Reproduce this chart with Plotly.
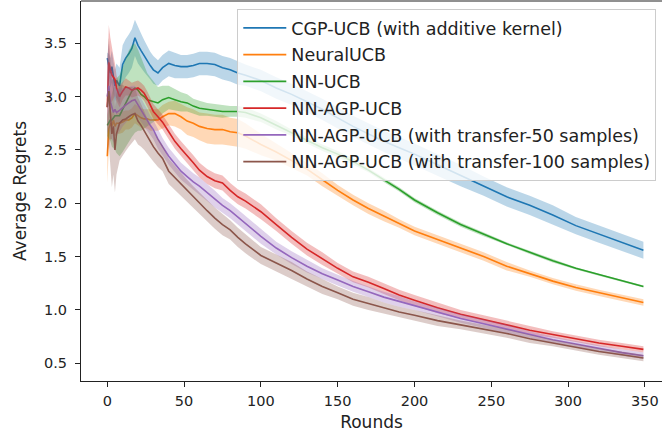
import plotly.graph_objects as go

rounds = [0, 1, 2, 3, 4, 5, 6,
          8, 10, 12, 14, 16, 18, 20,
          22, 24, 26, 28, 30,
          33, 36, 40, 44, 48, 52, 56, 60,
          65, 70, 75, 80, 85, 90,
          100, 110, 120, 130, 140, 150, 160, 170, 180, 190, 200,
          215, 230, 245, 260, 275, 290, 305, 320, 335, 349]

labels = ["CGP-UCB (with additive kernel)", "NeuralUCB", "NN-UCB", "NN-AGP-UCB",
          "NN-AGP-UCB (with transfer-50 samples)", "NN-AGP-UCB (with transfer-100 samples)"]

cgp_mean = [3.36, 3.30, 3.22, 3.28, 3.18, 3.10, 3.15,
            3.10, 3.30, 3.36, 3.40, 3.45, 3.55, 3.48,
            3.43, 3.38, 3.33, 3.29, 3.25,
            3.22, 3.27, 3.31, 3.29, 3.28, 3.28, 3.29, 3.31,
            3.31, 3.30, 3.27, 3.25, 3.22, 3.20,
            3.15, 3.08, 3.02, 2.95, 2.88, 2.80, 2.72, 2.65, 2.58, 2.52, 2.46,
            2.36, 2.26, 2.16, 2.06, 1.98, 1.89, 1.79, 1.71, 1.63, 1.56]
cgp_std = [0.05, 0.10, 0.14, 0.15, 0.15, 0.15, 0.16,
           0.17, 0.18, 0.18, 0.18, 0.18, 0.17, 0.17,
           0.16, 0.15, 0.14, 0.13, 0.13,
           0.12, 0.12, 0.12, 0.12, 0.11, 0.11, 0.11, 0.11,
           0.11, 0.11, 0.11, 0.11, 0.11, 0.10,
           0.10, 0.10, 0.10, 0.10, 0.10, 0.10, 0.10, 0.10, 0.10, 0.10, 0.10,
           0.10, 0.10, 0.09, 0.09, 0.09, 0.09, 0.08, 0.08, 0.08, 0.08]

neural_mean = [2.44, 2.70, 2.75, 2.72, 2.78, 2.72, 2.75,
               2.75, 2.76, 2.78, 2.78, 2.80, 2.84, 2.82,
               2.80, 2.79, 2.79, 2.78, 2.78,
               2.78, 2.81, 2.84, 2.84, 2.81, 2.77, 2.75, 2.72,
               2.70, 2.69, 2.69, 2.67, 2.66, 2.63,
               2.55, 2.48, 2.40, 2.32, 2.22, 2.12, 2.03, 1.95, 1.88, 1.81, 1.74,
               1.66, 1.58, 1.50, 1.41, 1.34, 1.27, 1.21, 1.16, 1.11, 1.07]
neural_std = [0.25, 0.20, 0.15, 0.12, 0.10, 0.10, 0.10,
              0.10, 0.10, 0.09, 0.09, 0.09, 0.09, 0.09,
              0.09, 0.09, 0.09, 0.10, 0.10,
              0.10, 0.11, 0.11, 0.12, 0.12, 0.13, 0.13, 0.13,
              0.14, 0.14, 0.14, 0.13, 0.13, 0.12,
              0.10, 0.08, 0.07, 0.06, 0.06, 0.05, 0.05, 0.05, 0.05, 0.04, 0.04,
              0.04, 0.04, 0.04, 0.04, 0.03, 0.03, 0.03, 0.03, 0.03, 0.03]

nnucb_mean = [2.73, 2.75, 2.78, 2.78, 2.80, 2.82, 2.82,
              2.82, 2.88, 2.94, 3.00, 3.05, 3.08, 3.06,
              3.02, 3.00, 2.97, 2.96, 2.95,
              2.94, 2.97, 2.99, 2.97, 2.95, 2.94, 2.91, 2.89,
              2.88, 2.87, 2.86, 2.86, 2.86, 2.85,
              2.80, 2.73, 2.66, 2.59, 2.52, 2.46, 2.39, 2.31, 2.22, 2.13, 2.03,
              1.91, 1.80, 1.71, 1.62, 1.54, 1.46, 1.39, 1.33, 1.27, 1.22]
nnucb_std = [0.10, 0.15, 0.20, 0.25, 0.28, 0.32, 0.35,
             0.38, 0.40, 0.42, 0.43, 0.43, 0.42, 0.38,
             0.34, 0.30, 0.25, 0.22, 0.19,
             0.15, 0.13, 0.11, 0.10, 0.09, 0.08, 0.07, 0.07,
             0.06, 0.06, 0.06, 0.05, 0.05, 0.05,
             0.04, 0.04, 0.03, 0.03, 0.03, 0.03, 0.03, 0.02, 0.02, 0.02, 0.02,
             0.02, 0.02, 0.02, 0.015, 0.015, 0.015, 0.01, 0.01, 0.01, 0.01]

agp_mean = [2.90, 3.32, 3.25, 3.20, 3.18, 3.16, 3.08,
            3.00, 3.05, 3.09, 3.08, 3.06, 3.07, 3.08,
            3.06, 3.03, 2.98, 2.92, 2.86,
            2.81, 2.76, 2.67, 2.58, 2.51, 2.45, 2.38, 2.31,
            2.25, 2.21, 2.19, 2.12, 2.06, 2.02,
            1.92, 1.80, 1.68, 1.57, 1.48, 1.39, 1.31, 1.26, 1.20, 1.14, 1.09,
            1.02, 0.96, 0.91, 0.86, 0.81, 0.77, 0.73, 0.69, 0.66, 0.63]
agp_std = [0.30, 0.35, 0.30, 0.25, 0.20, 0.15, 0.12,
           0.10, 0.08, 0.08, 0.07, 0.07, 0.07, 0.07,
           0.07, 0.07, 0.07, 0.07, 0.07,
           0.07, 0.07, 0.07, 0.07, 0.07, 0.07, 0.07, 0.07,
           0.07, 0.07, 0.07, 0.07, 0.07, 0.07,
           0.07, 0.06, 0.06, 0.06, 0.06, 0.05, 0.05, 0.05, 0.05, 0.05, 0.05,
           0.05, 0.04, 0.04, 0.04, 0.04, 0.03, 0.03, 0.03, 0.03, 0.03]

t50_mean = [3.00, 3.10, 2.95, 2.90, 2.85, 2.88, 2.85,
            2.87, 2.90, 2.92, 2.94, 2.96, 2.97, 2.92,
            2.88, 2.83, 2.78, 2.73, 2.69,
            2.60, 2.53, 2.44, 2.37, 2.30, 2.25, 2.20, 2.16,
            2.10, 2.04, 1.98, 1.93, 1.87, 1.81,
            1.69, 1.58, 1.49, 1.41, 1.34, 1.28, 1.22, 1.17, 1.12, 1.08, 1.04,
            0.98, 0.92, 0.87, 0.82, 0.77, 0.72, 0.68, 0.64, 0.60, 0.57]
t50_std = [0.35, 0.40, 0.35, 0.30, 0.28, 0.25, 0.22,
           0.20, 0.18, 0.16, 0.15, 0.14, 0.13, 0.12,
           0.11, 0.10, 0.10, 0.09, 0.09,
           0.09, 0.08, 0.08, 0.08, 0.08, 0.08, 0.08, 0.08,
           0.08, 0.08, 0.07, 0.07, 0.07, 0.07,
           0.07, 0.06, 0.06, 0.06, 0.05, 0.05, 0.05, 0.05, 0.05, 0.05, 0.04,
           0.04, 0.04, 0.04, 0.04, 0.03, 0.03, 0.03, 0.03, 0.03, 0.03]

t100_mean = [2.90, 3.05, 2.85, 2.65, 2.72, 2.50, 2.65,
             2.75, 2.78, 2.79, 2.81, 2.83, 2.84, 2.77,
             2.73, 2.68, 2.63, 2.58, 2.53,
             2.47, 2.42, 2.30, 2.24, 2.18, 2.12, 2.06, 2.00,
             1.93, 1.86, 1.80, 1.75, 1.68, 1.62,
             1.51, 1.44, 1.37, 1.29, 1.22, 1.16, 1.10, 1.06, 1.02, 0.98, 0.95,
             0.90, 0.86, 0.82, 0.78, 0.73, 0.69, 0.65, 0.61, 0.58, 0.55]
t100_std = [0.45, 0.50, 0.50, 0.50, 0.45, 0.40, 0.38,
            0.35, 0.33, 0.30, 0.28, 0.26, 0.24, 0.22,
            0.20, 0.18, 0.16, 0.15, 0.14,
            0.13, 0.12, 0.12, 0.11, 0.11, 0.10, 0.10, 0.10,
            0.10, 0.10, 0.10, 0.09, 0.09, 0.09,
            0.08, 0.08, 0.08, 0.07, 0.07, 0.06, 0.06, 0.06, 0.05, 0.05, 0.05,
            0.05, 0.04, 0.04, 0.04, 0.04, 0.03, 0.03, 0.03, 0.03, 0.03]

x_ticks = [0, 50, 100, 150, 200, 250, 300, 350]
y_ticks = [0.5, 1.0, 1.5, 2.0, 2.5, 3.0, 3.5]

colors = ["#1f77b4", "#ff7f0e", "#2ca02c", "#d62728", "#9467bd", "#8c564b"]
means = [cgp_mean, neural_mean, nnucb_mean, agp_mean, t50_mean, t100_mean]
stds = [cgp_std, neural_std, nnucb_std, agp_std, t50_std, t100_std]


def rgba(hexc, a):
    h = hexc.lstrip("#")
    return "rgba(%d,%d,%d,%.2f)" % (int(h[0:2], 16), int(h[2:4], 16), int(h[4:6], 16), a)


fig = go.Figure()
for i, (lab, m, s, c) in enumerate(zip(labels, means, stds, colors)):
    upper = [a + b for a, b in zip(m, s)]
    lower = [a - b for a, b in zip(m, s)]
    fig.add_trace(go.Scatter(x=rounds, y=m, mode="lines", name=lab,
                             line=dict(color=c, width=1.6), legendgroup=str(i)))
    fig.add_trace(go.Scatter(x=rounds + rounds[::-1], y=upper + lower[::-1],
                             fill="toself", fillcolor=rgba(c, 0.3), mode="lines",
                             line=dict(width=0), showlegend=False, hoverinfo="skip",
                             legendgroup=str(i)))

tick_font = dict(family="DejaVu Sans", size=14.5, color="#222222")
big_font = dict(family="DejaVu Sans", size=17, color="#222222")
legend_font = dict(family="DejaVu Sans", size=17.5, color="#222222")

fig.update_layout(
    width=662, height=437,
    margin=dict(l=81, r=0, t=1, b=56),
    plot_bgcolor="white", paper_bgcolor="white",
    font=tick_font,
    showlegend=True,
    legend=dict(x=0.269, y=0.979, xanchor="left", yanchor="top",
                bgcolor="rgba(255,255,255,0.8)", bordercolor="#cccccc", borderwidth=1,
                font=legend_font,
                itemwidth=43, tracegroupgap=1, traceorder="grouped"),
    xaxis=dict(range=[-17.1, 361.1], tickvals=x_ticks, ticks="outside", ticklen=5,
               tickcolor="#222", showline=True, linecolor="#222", linewidth=1,
               showgrid=False, zeroline=False, tickfont=tick_font,
               ticklabelstandoff=2,
               title=dict(text="Rounds", standoff=7, font=big_font)),
    yaxis=dict(range=[0.334, 3.895], tickvals=y_ticks, tickformat=".1f",
               ticks="outside", ticklen=5, tickcolor="#222", showline=True,
               linecolor="#222", linewidth=1, showgrid=False, zeroline=False,
               tickfont=tick_font, ticklabelstandoff=5,
               title=dict(text="Average Regrets", standoff=13, font=big_font)),
)
fig.add_shape(type="line", xref="paper", yref="paper", x0=0, x1=1, y0=1, y1=1,
              line=dict(color="#222", width=1))

fig.write_html("out.html")
